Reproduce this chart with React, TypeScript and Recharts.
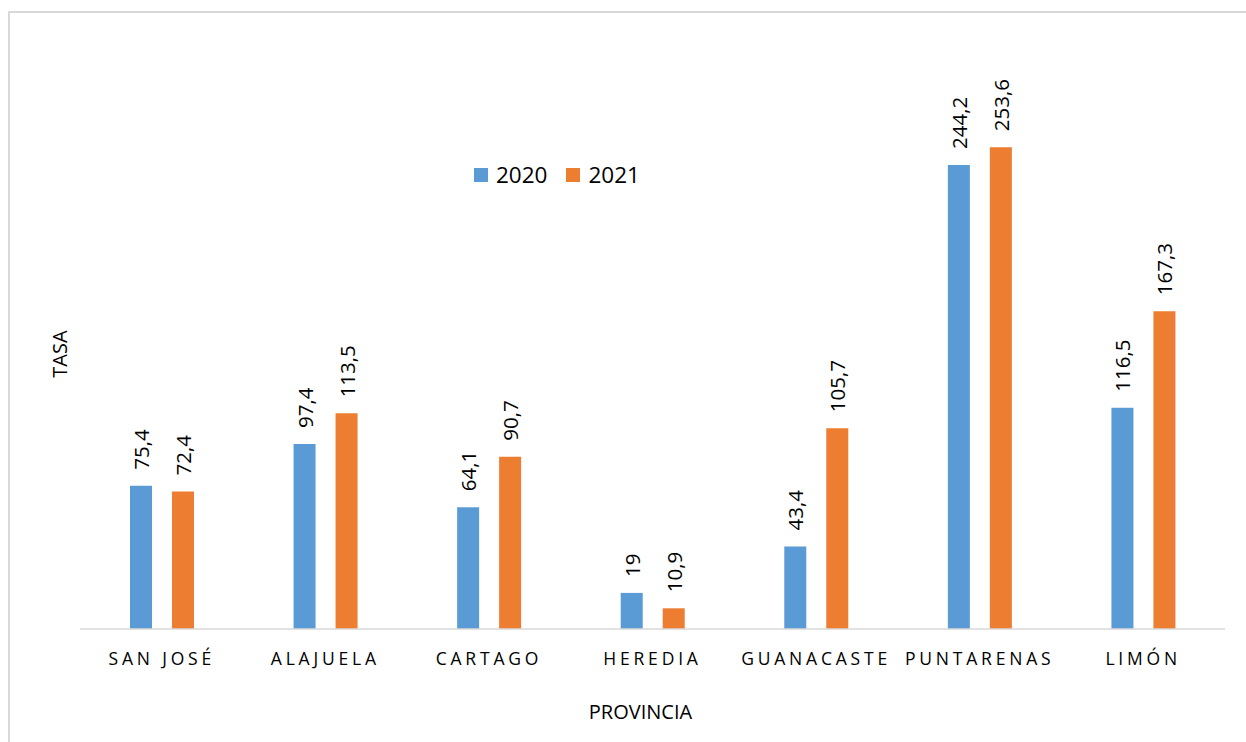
import React from 'react';
import { BarChart, Bar, XAxis, YAxis, Legend, LabelList } from 'recharts';

const provincias = ['SAN JOSÉ', 'ALAJUELA', 'CARTAGO', 'HEREDIA', 'GUANACASTE', 'PUNTARENAS', 'LIMÓN'];
const tasa2020 = [75.4, 97.4, 64.1, 19, 43.4, 244.2, 116.5];
const tasa2021 = [72.4, 113.5, 90.7, 10.9, 105.7, 253.6, 167.3];
const seriesNames = ['2020', '2021'];
const seriesColors = ['#5B9BD5', '#ED7D31'];
const yDomain = [0, 300];

const data = provincias.map((p, i) => ({ provincia: p, y2020: tasa2020[i], y2021: tasa2021[i] }));

const FONT = '"Open Sans", "Noto Sans", sans-serif';

const fmt = (v: number) => String(v).replace('.', ',');

const ValueLabel = (props: any) => {
  const { x, y, width, value } = props;
  const cx = Number(x) + Number(width) / 2 + 8;
  const ty = Number(y) - 16;
  return (
    <text
      x={cx}
      y={ty}
      transform={`rotate(-90, ${cx}, ${ty})`}
      textAnchor="start"
      fontSize={20.5}
      fontFamily={FONT}
      fill="#000"
    >
      {fmt(value)}
    </text>
  );
};

const CatTick = (props: any) => {
  const { x, y, payload } = props;
  return (
    <text
      x={x}
      y={Number(y) + 36}
      textAnchor="middle"
      fontSize={17.5}
      fontFamily={FONT}
      fill="#000"
      letterSpacing={3.8}
    >
      {payload.value}
    </text>
  );
};

const LegendContent = () => (
  <div style={{ display: 'flex', alignItems: 'center', fontFamily: FONT, fontSize: 22.5, color: '#000' }}>
    {seriesNames.map((n, i) => (
      <div key={n} style={{ display: 'flex', alignItems: 'center', marginRight: 19 }}>
        <span style={{ display: 'inline-block', width: 14, height: 14, background: seriesColors[i], marginRight: 8 }} />
        <span style={{ lineHeight: '24px' }}>{n}</span>
      </div>
    ))}
  </div>
);

const XTitle = (props: any) => {
  const { viewBox } = props;
  const cx = viewBox.x + viewBox.width / 2 - 12;
  return (
    <text x={cx} y={719} textAnchor="middle" fontSize={20} fontFamily={FONT} fill="#000">
      PROVINCIA
    </text>
  );
};

const YTitle = (props: any) => {
  const { viewBox } = props;
  const x = viewBox.x + 47;
  const y = viewBox.y + viewBox.height / 2 + 10;
  return (
    <text x={x} y={y} transform={`rotate(-90, ${x}, ${y})`} textAnchor="middle" fontSize={20} fontFamily={FONT} fill="#000">
      TASA
    </text>
  );
};

export default function App() {
  return (
    <div style={{ position: 'absolute', left: 0, top: 0, width: 1246, height: 742, overflow: 'hidden', background: '#fff' }}>
      <div
        style={{
          position: 'absolute',
          left: 8,
          top: 11,
          width: 1300,
          height: 800,
          border: '2px solid #d9d9d9',
          boxSizing: 'border-box',
        }}
      />
      <div style={{ position: 'absolute', left: 0, top: 0 }}>
        <BarChart
          width={1246}
          height={742}
          data={data}
          margin={{ top: 59, right: 21, left: 20, bottom: 73 }}
          barSize={22}
          barGap={20}
        >
          <XAxis
            dataKey="provincia"
            height={40}
            tickLine={false}
            tickSize={0}
            tickMargin={0}
            axisLine={{ stroke: '#d9d9d9', strokeWidth: 1.5 }}
            tick={<CatTick />}
            interval={0}
            label={<XTitle />}
          />
          <YAxis width={60} domain={yDomain} tick={false} axisLine={false} tickLine={false} label={<YTitle />} />
          <Legend
            layout="horizontal"
            verticalAlign="middle"
            align="center"
            content={<LegendContent />}
            wrapperStyle={{ top: 163, left: 474, width: 280, height: 24 }}
          />
          <Bar dataKey="y2020" name={seriesNames[0]} fill={seriesColors[0]} isAnimationActive={false}>
            <LabelList dataKey="y2020" content={<ValueLabel />} />
          </Bar>
          <Bar dataKey="y2021" name={seriesNames[1]} fill={seriesColors[1]} isAnimationActive={false}>
            <LabelList dataKey="y2021" content={<ValueLabel />} />
          </Bar>
        </BarChart>
      </div>
    </div>
  );
}
